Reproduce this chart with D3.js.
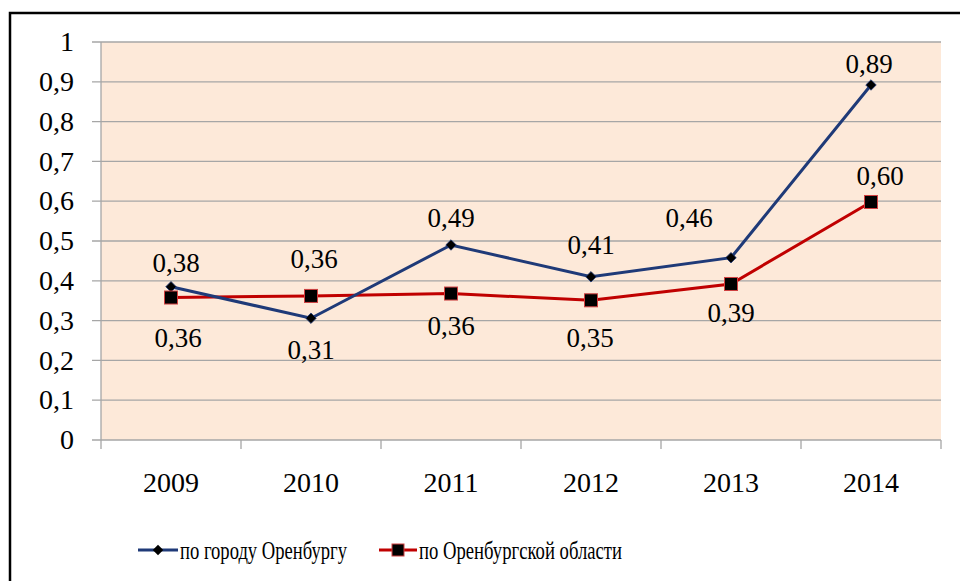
<!DOCTYPE html>
<html>
<head>
<meta charset="utf-8">
<script src="https://cdn.jsdelivr.net/npm/d3@7"></script>
<style>
  body { margin: 0; background: #fff; }
  svg text { font-family: "Liberation Serif", "Times New Roman", serif; fill: #000; }
</style>
</head>
<body>
<div id="chart"></div>
<script>
// данные графика
var years = ["2009", "2010", "2011", "2012", "2013", "2014"];
var cityValues = [0.385, 0.306, 0.49, 0.41, 0.458, 0.892];
var regionValues = [0.358, 0.362, 0.368, 0.351, 0.392, 0.598];
var cityLabels = ["0,38", "0,31", "0,49", "0,41", "0,46", "0,89"];
var regionLabels = ["0,36", "0,36", "0,36", "0,35", "0,39", "0,60"];
var yTicks = [0, 0.1, 0.2, 0.3, 0.4, 0.5, 0.6, 0.7, 0.8, 0.9, 1];
var seriesNames = ["по городу Оренбургу", "по Оренбургской области"];

// сдвиги подписей (как в исходной диаграмме Excel)
var cityLabelShift = [[5, -24], [0, 32], [0, -27], [0, -32], [-42, -40], [-2, -21]];
var regionLabelShift = [[7, 41], [3, -37], [0, 33], [-1, 38], [0, 29], [9, -26]];

var width = 960, height = 581;
var margin = { left: 101, right: 19, top: 42, bottom: 141 };

var svg = d3.select("#chart").append("svg")
    .attr("width", width)
    .attr("height", height);

// рамка
svg.append("rect")
    .attr("x", 10).attr("y", 13)
    .attr("width", 970).attr("height", 600)
    .attr("fill", "none")
    .attr("stroke", "#000")
    .attr("stroke-width", 2.5);

var x = d3.scaleBand()
    .domain(years)
    .range([margin.left, width - margin.right]);

var y = d3.scaleLinear()
    .domain([0, 1])
    .range([height - margin.bottom, margin.top]);

// фон области построения
svg.append("rect")
    .attr("x", margin.left).attr("y", y(1))
    .attr("width", x.range()[1] - margin.left)
    .attr("height", y(0) - y(1))
    .attr("fill", "#fde9d9");

// сетка
svg.append("g")
    .selectAll("line")
    .data(yTicks)
    .enter().append("line")
    .attr("x1", margin.left - 9)
    .attr("x2", x.range()[1])
    .attr("y1", function(d) { return y(d); })
    .attr("y2", function(d) { return y(d); })
    .attr("stroke", "#a6a6a6")
    .attr("stroke-width", 1.3);

// ось Y
svg.append("line")
    .attr("x1", margin.left).attr("x2", margin.left)
    .attr("y1", y(1)).attr("y2", y(0))
    .attr("stroke", "#a6a6a6").attr("stroke-width", 1.3);

svg.append("g")
    .selectAll("text")
    .data(yTicks)
    .enter().append("text")
    .attr("x", 74)
    .attr("y", function(d) { return y(d); })
    .attr("dy", "0.33em")
    .attr("text-anchor", "end")
    .style("font-size", "28px")
    .text(function(d) { return String(d).replace(".", ","); });

// ось X: деления на границах категорий
var xBounds = years.map(function(d) { return x(d); }).concat([x.range()[1]]);
svg.append("g")
    .selectAll("line")
    .data(xBounds)
    .enter().append("line")
    .attr("x1", function(d) { return d; })
    .attr("x2", function(d) { return d; })
    .attr("y1", y(0))
    .attr("y2", y(0) + 9)
    .attr("stroke", "#a6a6a6").attr("stroke-width", 1.3);

svg.append("g")
    .selectAll("text")
    .data(years)
    .enter().append("text")
    .attr("x", function(d) { return x(d) + x.bandwidth() / 2; })
    .attr("y", 492)
    .attr("text-anchor", "middle")
    .style("font-size", "28px")
    .text(function(d) { return d; });

var line = d3.line()
    .x(function(d, i) { return x(years[i]) + x.bandwidth() / 2; })
    .y(function(d) { return y(d); });

// линия области
svg.append("path")
    .datum(regionValues)
    .attr("d", line)
    .attr("fill", "none")
    .attr("stroke", "#c00000")
    .attr("stroke-width", 3);

// линия города
svg.append("path")
    .datum(cityValues)
    .attr("d", line)
    .attr("fill", "none")
    .attr("stroke", "#1f3a78")
    .attr("stroke-width", 3);

var diamond = d3.symbol().type(d3.symbolDiamond2).size(70);

svg.append("g")
    .selectAll("path")
    .data(cityValues)
    .enter().append("path")
    .attr("transform", function(d, i) {
        return "translate(" + (x(years[i]) + x.bandwidth() / 2) + "," + y(d) + ")";
    })
    .attr("d", diamond)
    .attr("fill", "#000")
    .attr("stroke", "#1f3a78")
    .attr("stroke-width", 0.8);

svg.append("g")
    .selectAll("rect")
    .data(regionValues)
    .enter().append("rect")
    .attr("x", function(d, i) { return x(years[i]) + x.bandwidth() / 2 - 6.5; })
    .attr("y", function(d) { return y(d) - 6.5; })
    .attr("width", 13).attr("height", 13)
    .attr("fill", "#000")
    .attr("stroke", "#d04040")
    .attr("stroke-width", 1);

// подписи данных
function addLabels(values, labels, shifts) {
    svg.append("g")
        .selectAll("text")
        .data(values)
        .enter().append("text")
        .attr("x", function(d, i) { return x(years[i]) + x.bandwidth() / 2 + shifts[i][0]; })
        .attr("y", function(d, i) { return y(d) + shifts[i][1]; })
        .attr("dy", "0.33em")
        .attr("text-anchor", "middle")
        .style("font-size", "27px")
        .text(function(d, i) { return labels[i]; });
}
addLabels(cityValues, cityLabels, cityLabelShift);
addLabels(regionValues, regionLabels, regionLabelShift);

// легенда
var legend = svg.append("g");
var lg1 = legend.append("g");
lg1.append("line")
    .attr("x1", 138).attr("x2", 178).attr("y1", 550).attr("y2", 550)
    .attr("stroke", "#1f3a78").attr("stroke-width", 3);
lg1.append("path")
    .attr("transform", "translate(158,550)")
    .attr("d", diamond)
    .attr("fill", "#000");
lg1.append("text")
    .attr("x", 180).attr("y", 559)
    .attr("textLength", 167)
    .attr("lengthAdjust", "spacingAndGlyphs")
    .style("font-size", "26px")
    .text(seriesNames[0]);

var lg2 = legend.append("g");
lg2.append("line")
    .attr("x1", 379).attr("x2", 417).attr("y1", 550).attr("y2", 550)
    .attr("stroke", "#c00000").attr("stroke-width", 3);
lg2.append("rect")
    .attr("x", 392).attr("y", 544).attr("width", 12).attr("height", 12)
    .attr("fill", "#000").attr("stroke", "#d04040");
lg2.append("text")
    .attr("x", 419).attr("y", 559)
    .attr("textLength", 203)
    .attr("lengthAdjust", "spacingAndGlyphs")
    .style("font-size", "26px")
    .text(seriesNames[1]);
</script>
</body>
</html>
